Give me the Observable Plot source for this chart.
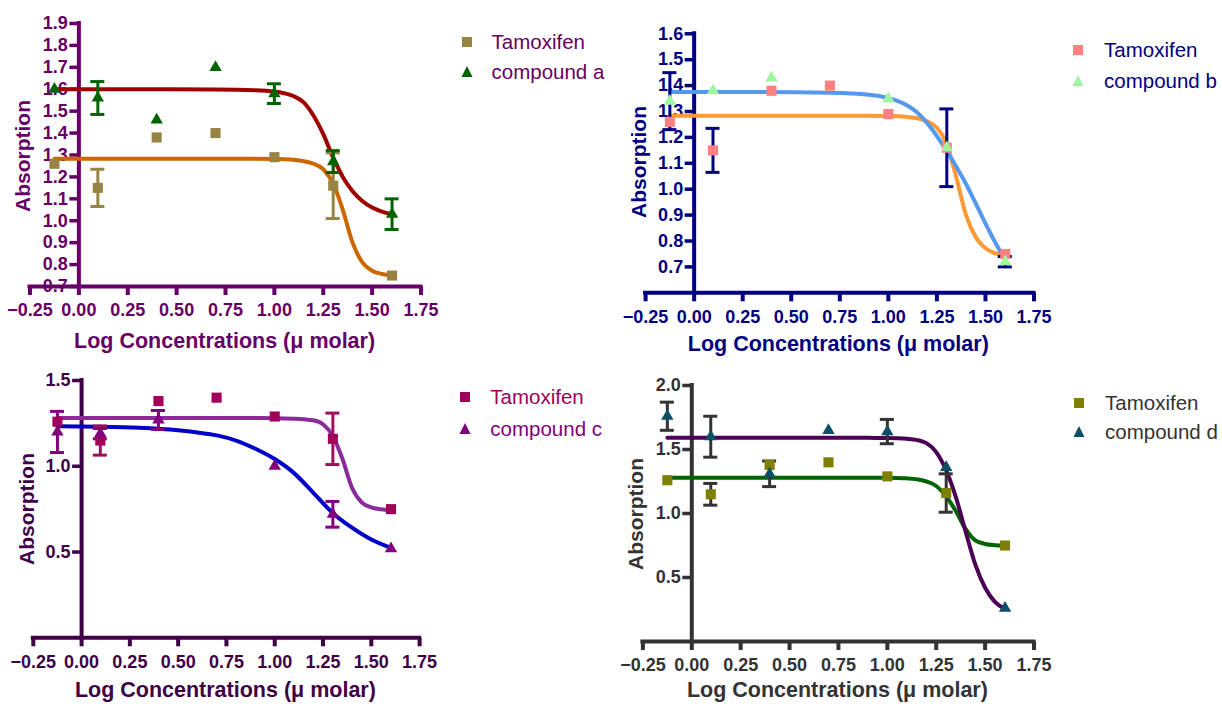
<!DOCTYPE html>
<html>
<head>
<meta charset="utf-8">
<script src="https://cdn.jsdelivr.net/npm/d3@7"></script>
<script src="https://cdn.jsdelivr.net/npm/@observablehq/plot@0.6"></script>
<style>
  html, body { margin: 0; padding: 0; background: #fff; }
  #root { position: relative; width: 1222px; height: 704px; overflow: hidden; background: #fff; }
  .panel { position: absolute; }
  .lab { position: absolute; white-space: nowrap; line-height: 1; font-family: "Liberation Sans", Arial, sans-serif; }
</style>
</head>
<body>
<div id="root"></div>
<script>
// ---------------- DATA ----------------
const xLog = [-0.125, 0.097, 0.398, 0.699, 1.0, 1.301, 1.602];   // log10 of µM concentration
const xTicks = [-0.25, 0, 0.25, 0.5, 0.75, 1.0, 1.25, 1.5, 1.75];

const tamoxifenY   = [1.26, 1.15, 1.38, 1.40, 1.29, 1.16, 0.75];
const tamoxifenErr = [0, 0.085, 0, 0, 0, 0.15, 0];

const compoundAY   = [1.60, 1.56, 1.46, 1.70, 1.58, 1.27, 1.03];
const compoundAErr = [0, 0.075, 0, 0, 0.045, 0.05, 0.07];

const compoundBY   = [1.34, 1.38, 1.43, null, 1.35, 1.16, 0.72];
const compoundBErr = [0.11, 0, 0, 0, 0, 0, 0.02];

const compoundCY   = [1.20, 1.19, 1.27, null, 1.00, 0.72, 0.52];
const compoundCErr = [0.12, 0.03, 0.055, 0, 0, 0.075, 0];

const compoundDY   = [1.76, 1.60, 1.31, 1.65, 1.64, 1.36, 0.26];
const compoundDErr = [0.11, 0.16, 0.10, 0, 0.095, 0, 0];

// fitted curves
const curveGrid = [-0.125, 0.3, 0.7, 0.9, 1.0, 1.05, 1.1, 1.15, 1.2, 1.25, 1.3, 1.35, 1.4, 1.45, 1.5, 1.55, 1.602];
const curveA_comp = [1.600, 1.600, 1.599, 1.596, 1.590, 1.582, 1.568, 1.540, 1.480, 1.395, 1.290, 1.200, 1.135, 1.090, 1.060, 1.042, 1.030];
const curveA_tam  = [1.283, 1.283, 1.283, 1.283, 1.282, 1.281, 1.278, 1.272, 1.260, 1.235, 1.170, 1.050, 0.900, 0.810, 0.772, 0.757, 0.750];
const curveB_comp = [1.375, 1.375, 1.372, 1.365, 1.352, 1.340, 1.322, 1.295, 1.255, 1.205, 1.148, 1.087, 1.020, 0.945, 0.868, 0.795, 0.728];
const curveB_tam  = [1.284, 1.284, 1.284, 1.284, 1.283, 1.282, 1.279, 1.274, 1.262, 1.237, 1.175, 1.045, 0.900, 0.815, 0.772, 0.753, 0.745];
const curveC_tam  = [1.281, 1.281, 1.281, 1.281, 1.280, 1.279, 1.277, 1.274, 1.268, 1.245, 1.178, 1.045, 0.875, 0.790, 0.760, 0.750, 0.745];
const curveD_comp = [1.592, 1.592, 1.592, 1.591, 1.590, 1.588, 1.584, 1.575, 1.550, 1.480, 1.340, 1.130, 0.860, 0.600, 0.420, 0.310, 0.255];
const curveD_tam  = [1.280, 1.280, 1.280, 1.280, 1.279, 1.278, 1.275, 1.268, 1.250, 1.215, 1.135, 1.020, 0.880, 0.790, 0.762, 0.752, 0.748];
const curveC_compX = [-0.125, 0.1, 0.3, 0.5, 0.6, 0.7, 0.8, 0.9, 1.0, 1.1, 1.2, 1.3, 1.4, 1.5, 1.602];
const curveC_comp  = [1.233, 1.231, 1.225, 1.210, 1.197, 1.180, 1.150, 1.102, 1.042, 0.960, 0.845, 0.728, 0.642, 0.573, 0.524];

const yTicksA = [0.7, 0.8, 0.9, 1.0, 1.1, 1.2, 1.3, 1.4, 1.5, 1.6, 1.7, 1.8, 1.9];
const yTicksB = [0.7, 0.8, 0.9, 1.0, 1.1, 1.2, 1.3, 1.4, 1.5, 1.6];
const yTicksC = [0.5, 1.0, 1.5];
const yTicksD = [0.5, 1.0, 1.5, 2.0];

const seriesNames = ["Tamoxifen", "compound a", "compound b", "compound c", "compound d"];
const xTitle = "Log Concentrations (\u03bc molar)";
const yTitle = "Absorption";

// ---------------- helpers ----------------
const FONT = '"Liberation Sans", Arial, sans-serif';
const rows = (ys, errs) => xLog.map((x, i) => ({x, y: ys[i], e: errs[i]})).filter(d => d.y != null);
const curveRows = (xs, ys) => xs.map((x, i) => ({x, y: ys[i]}));
const xFmt = d3.format(".2f");

function panel(cfg) {
  const [ymin] = cfg.yDomain;
  const ax = cfg.axis;
  const marks = [
    Plot.text(cfg.yTicks, {x: 0, y: d => d, text: d => cfg.yFmt(d), textAnchor: "end", lineAnchor: "middle",
      dx: -11, fill: ax, fontSize: 18, fontWeight: "bold"}),
    Plot.text(xTicks, {x: d => d, y: ymin, text: d => xFmt(d), textAnchor: "middle", lineAnchor: "middle",
      dy: 24, fill: ax, fontSize: 18, fontWeight: "bold"}),
    Plot.ruleX([0], {y1: ymin, y2: cfg.yTicks[cfg.yTicks.length - 1], stroke: ax, strokeWidth: 4, strokeLinecap: "square"}),
    Plot.ruleY([ymin], {x1: -0.25, x2: 1.75, stroke: ax, strokeWidth: 4, strokeLinecap: "square"}),
    Plot.ruleY(cfg.yTicks, {x1: 0, x2: 0, y: d => d, insetLeft: -4.5, insetRight: -4.5, dx: -4.5, stroke: ax, strokeWidth: 3.5}),
    Plot.ruleX(xTicks, {x: d => d, y1: ymin, y2: ymin, insetTop: -4.5, insetBottom: -4.5, dy: 4.5, stroke: ax, strokeWidth: 4})
  ];
  for (const c of cfg.curves) {
    marks.push(Plot.line(c.data, {x: "x", y: "y", stroke: c.color, strokeWidth: 4, curve: "monotone-x"}));
  }
  for (const s of cfg.series) {
    const eb = s.data.filter(d => d.e > 0);
    marks.push(
      Plot.ruleX(eb, {x: "x", y1: d => d.y - d.e, y2: d => d.y + d.e, stroke: s.errColor, strokeWidth: 3}),
      Plot.ruleY(eb, {x1: "x", x2: "x", y: d => d.y + d.e, insetLeft: -7, insetRight: -7, stroke: s.errColor, strokeWidth: 3}),
      Plot.ruleY(eb, {x1: "x", x2: "x", y: d => d.y - d.e, insetLeft: -7, insetRight: -7, stroke: s.errColor, strokeWidth: 3})
    );
  }
  for (const s of cfg.series) {
    marks.push(Plot.dot(s.data, {x: "x", y: "y", symbol: s.symbol, r: s.symbol === "square" ? 5.7 : 4.6, fill: s.color, stroke: "none"}));
  }
  const svg = Plot.plot({
    width: cfg.w, height: cfg.h,
    marginLeft: cfg.xl, marginRight: cfg.w - cfg.xr, marginTop: cfg.mt, marginBottom: cfg.h - cfg.yb,
    x: {domain: [-0.25, 1.75], axis: null},
    y: {domain: cfg.yDomain, axis: null},
    style: {background: "transparent", fontFamily: FONT, overflow: "visible"},
    marks
  });
  svg.classList.add("panel");
  svg.style.left = cfg.left + "px";
  svg.style.top = cfg.top + "px";
  svg.style.maxWidth = "none";
  root.appendChild(svg);

  // axis titles
  const xt = document.createElement("div");
  xt.className = "lab";
  xt.textContent = xTitle;
  Object.assign(xt.style, {left: cfg.xTitle[0] + "px", top: cfg.xTitle[1] + "px", color: ax,
    fontSize: "21.5px", fontWeight: "bold", transform: "translate(-50%,-50%)"});
  root.appendChild(xt);
  const yt = document.createElement("div");
  yt.className = "lab";
  yt.textContent = yTitle;
  Object.assign(yt.style, {left: cfg.yTitle[0] + "px", top: cfg.yTitle[1] + "px", color: ax,
    fontSize: "21px", fontWeight: "bold", transform: "translate(-50%,-50%) rotate(-90deg)"});
  root.appendChild(yt);

  // legend
  cfg.series.forEach((s, i) => {
    const [cx, cy] = cfg.legend[i];
    const ns = "http://www.w3.org/2000/svg";
    const sym = document.createElementNS(ns, "svg");
    sym.setAttribute("width", 14); sym.setAttribute("height", 14);
    sym.style.position = "absolute";
    sym.style.left = (cx - 7) + "px"; sym.style.top = (cy - 7) + "px";
    const shape = document.createElementNS(ns, s.symbol === "square" ? "rect" : "polygon");
    if (s.symbol === "square") { shape.setAttribute("x", 2); shape.setAttribute("y", 2); shape.setAttribute("width", 10); shape.setAttribute("height", 10); }
    else shape.setAttribute("points", "7,1 12.5,12 1.5,12");
    shape.setAttribute("fill", s.color);
    sym.appendChild(shape);
    root.appendChild(sym);
    const t = document.createElement("div");
    t.className = "lab";
    t.textContent = s.name;
    Object.assign(t.style, {left: cfg.legendTextX + "px", top: cy + "px", color: s.textColor || cfg.legendColor,
      fontSize: "20.5px", transform: "translateY(-50%)"});
    root.appendChild(t);
  });
}

const root = document.getElementById("root");
const f1 = d3.format(".1f");

panel({
  left: 0, top: 0, w: 611, h: 360, xl: 29.5, xr: 420.5, mt: 23, yb: 286,
  yDomain: [0.7, 1.9], yTicks: yTicksA, yFmt: f1, axis: "#660066",
  curves: [
    {data: curveRows(curveGrid, curveA_tam), color: "#cc6600"},
    {data: curveRows(curveGrid, curveA_comp), color: "#a00000"}
  ],
  series: [
    {name: seriesNames[0], data: rows(tamoxifenY, tamoxifenErr), symbol: "square", color: "#978445", errColor: "#978445"},
    {name: seriesNames[1], data: rows(compoundAY, compoundAErr), symbol: "triangle", color: "#006400", errColor: "#006400"}
  ],
  xTitle: [224.6, 341.7], yTitle: [21.7, 155.6],
  legend: [[466.6, 41.7], [466.6, 72]], legendTextX: 491.5, legendColor: "#660066"
});

panel({
  left: 611, top: 0, w: 611, h: 360, xl: 34.1, xr: 422.5, mt: 33.3, yb: 292.3,
  yDomain: [0.6, 1.6], yTicks: yTicksB, yFmt: f1, axis: "#000080",
  curves: [
    {data: curveRows(curveGrid, curveB_tam), color: "#ff9933"},
    {data: curveRows(curveGrid, curveB_comp), color: "#5599ee"}
  ],
  series: [
    {name: seriesNames[0], data: rows(tamoxifenY, tamoxifenErr), symbol: "square", color: "#ff8080", errColor: "#000080"},
    {name: seriesNames[2], data: rows(compoundBY, compoundBErr), symbol: "triangle", color: "#a0f5a0", errColor: "#000080"}
  ],
  xTitle: [838.3, 345], yTitle: [638.1, 162],
  legend: [[1078.4, 50], [1078.4, 80.7]], legendTextX: 1104, legendColor: "#000080"
});

panel({
  left: 0, top: 360, w: 611, h: 344, xl: 32.8, xr: 419.1, mt: 20, yb: 277.3,
  yDomain: [0, 1.5], yTicks: yTicksC, yFmt: f1, axis: "#400048",
  curves: [
    {data: curveRows(curveGrid, curveC_tam), color: "#8b2a9b"},
    {data: curveRows(curveC_compX, curveC_comp), color: "#0000c8"}
  ],
  series: [
    {name: seriesNames[0], data: rows(tamoxifenY, tamoxifenErr), symbol: "square", color: "#a0005a", errColor: "#a0105a", textColor: "#a0005a"},
    {name: seriesNames[3], data: rows(compoundCY, compoundCErr), symbol: "triangle", color: "#800080", errColor: "#800080", textColor: "#800080"}
  ],
  xTitle: [225.4, 691], yTitle: [25.7, 509],
  legend: [[465.4, 396.7], [465.4, 429]], legendTextX: 490.3, legendColor: "#800080"
});

panel({
  left: 611, top: 360, w: 611, h: 344, xl: 31.4, xr: 422.5, mt: 25, yb: 281,
  yDomain: [0, 2.0], yTicks: yTicksD, yFmt: f1, axis: "#333333",
  curves: [
    {data: curveRows(curveGrid, curveD_tam), color: "#006400"},
    {data: curveRows(curveGrid, curveD_comp), color: "#4b0055"}
  ],
  series: [
    {name: seriesNames[0], data: rows(tamoxifenY, tamoxifenErr), symbol: "square", color: "#808000", errColor: "#333333"},
    {name: seriesNames[4], data: rows(compoundDY, compoundDErr), symbol: "triangle", color: "#0b5066", errColor: "#333333"}
  ],
  xTitle: [837.4, 691], yTitle: [635.4, 514],
  legend: [[1079, 402.5], [1079, 431.7]], legendTextX: 1105, legendColor: "#333333"
});
</script>
</body>
</html>
